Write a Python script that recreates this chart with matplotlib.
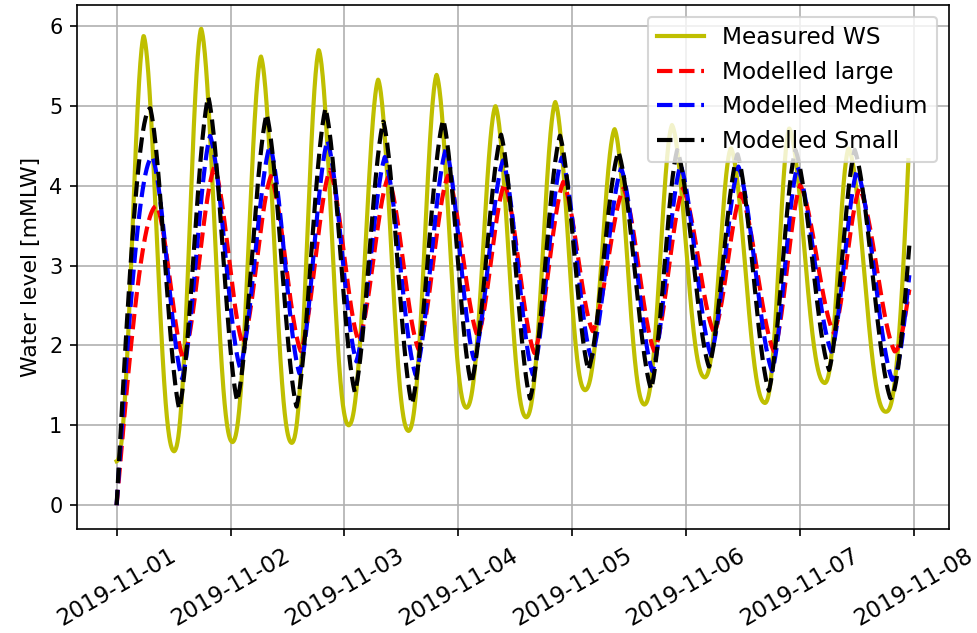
import numpy as np
import matplotlib
matplotlib.use('Agg')
import matplotlib.pyplot as plt
import matplotlib.dates as mdates

START = np.datetime64('2019-11-01T00:00')

# high and low waters, times in hours after START, levels in mMLW
meas_hw_t = [5.7, 17.8, 30.4, 42.6, 55.1, 67.4, 79.8, 92.4, 104.9, 117.0, 129.4, 141.7, 154.2]
meas_hw = [5.88, 5.97, 5.62, 5.70, 5.33, 5.39, 5.00, 5.05, 4.71, 4.76, 4.47, 4.72, 4.47]
meas_lw_t = [12.1, 24.4, 36.9, 48.9, 61.5, 73.7, 86.3, 98.7, 111.2, 123.9, 136.6, 149.2, 162.0]
meas_lw = [0.675, 0.79, 0.78, 1.00, 0.93, 1.22, 1.10, 1.44, 1.26, 1.60, 1.28, 1.53, 1.17]
meas_first = (0.0, 0.55)
meas_last = (166.8, 4.32)

large_hw_t = [8.5, 20.6, 32.5, 44.9, 57.2, 69.8, 81.7, 94.1, 106.8, 119.3, 131.5, 144.0, 156.5]
large_hw = [3.75, 4.24, 4.12, 4.20, 4.11, 4.13, 4.03, 4.05, 3.97, 3.97, 3.90, 4.01, 3.97]
large_lw_t = [14.1, 26.6, 38.8, 51.0, 63.6, 76.1, 88.0, 100.3, 113.3, 125.9, 138.5, 151.1, 163.9]
large_lw = [1.82, 2.01, 1.925, 2.05, 1.95, 2.11, 1.905, 2.175, 1.925, 2.155, 1.925, 2.155, 1.925]
large_last = (167.0, 2.70)

medium_hw_t = [7.6, 19.7, 32.3, 44.4, 56.5, 69.4, 81.4, 93.8, 106.3, 118.8, 131.0, 143.4, 156.0]
medium_hw = [4.36, 4.63, 4.51, 4.57, 4.36, 4.47, 4.32, 4.36, 4.22, 4.26, 4.24, 4.24, 4.20]
medium_lw_t = [13.8, 26.0, 38.5, 50.5, 63.0, 75.3, 87.7, 100.0, 112.9, 125.2, 138.1, 150.6, 163.4]
medium_lw = [1.58, 1.72, 1.65, 1.80, 1.63, 1.82, 1.63, 1.84, 1.675, 1.88, 1.675, 1.92, 1.57]
medium_last = (167.0, 2.88)

small_hw_t = [7.1, 19.3, 31.6, 44.0, 56.2, 68.8, 81.0, 93.4, 105.7, 118.1, 130.8, 143.0, 155.5]
small_hw = [4.97, 5.12, 4.90, 4.97, 4.81, 4.83, 4.64, 4.63, 4.43, 4.45, 4.40, 4.45, 4.45]
small_lw_t = [13.2, 25.4, 37.9, 50.2, 62.2, 74.7, 87.1, 99.4, 112.6, 124.8, 137.4, 150.1, 163.0]
small_lw = [1.20, 1.30, 1.23, 1.41, 1.26, 1.52, 1.33, 1.69, 1.45, 1.73, 1.43, 1.69, 1.34]
small_last = (167.0, 3.25)
model_first = (0.0, 0.0)


def tide_curve(first, hw_t, hw, lw_t, lw, last, power=1.0, sharp=0.0, ramp=False):
    """Half-cosine tide between successive high/low waters."""
    t_ext = np.concatenate([[first[0]], hw_t, lw_t, [last[0]]])
    v_ext = np.concatenate([[first[1]], hw, lw, [last[1]]])
    order = np.argsort(t_ext)
    t_ext, v_ext = t_ext[order], v_ext[order]
    n = len(t_ext)

    hours = np.append(np.arange(t_ext[0], t_ext[-1], 1 / 12), t_ext[-1])
    idx = np.clip(np.searchsorted(t_ext, hours, side='right') - 1, 0, n - 2)
    ta, tb = t_ext[idx], t_ext[idx + 1]
    va, vb = v_ext[idx], v_ext[idx + 1]
    f = (hours - ta) / (tb - ta)

    s = sharp * f + (1 - sharp) * (1 - np.cos(np.pi * f)) / 2
    if ramp:
        m = idx == 0
        s[m] = np.sin(np.pi / 2 * f[m])
    m = idx == n - 2
    s[m] = 1 - np.cos(np.pi / 2 * f[m])

    lo, hi = np.minimum(va, vb), np.maximum(va, vb)
    u = np.where(vb > va, s, 1 - s)
    level = lo + (hi - lo) * u ** power
    times = START + (hours * 3600).astype('timedelta64[s]')
    return times, level


series = [
    (tide_curve(meas_first, meas_hw_t, meas_hw, meas_lw_t, meas_lw, meas_last,
                power=1.3, sharp=0.15),
     'y', '-', 'Measured WS'),
    (tide_curve(model_first, large_hw_t, large_hw, large_lw_t, large_lw, large_last,
                sharp=0.4, ramp=True),
     'r', '--', 'Modelled large'),
    (tide_curve(model_first, medium_hw_t, medium_hw, medium_lw_t, medium_lw, medium_last,
                sharp=0.4, ramp=True),
     'b', '--', 'Modelled Medium'),
    (tide_curve(model_first, small_hw_t, small_hw, small_lw_t, small_lw, small_last,
                sharp=0.4, ramp=True),
     'k', '--', 'Modelled Small'),
]

fig = plt.figure(figsize=(977 / 150, 633 / 150), dpi=150)
ax = fig.add_axes([0.0788, 0.1643, 0.8925, 0.8278])

for (t, lvl), color, ls, label in series:
    ax.plot(t, lvl, color=color, linestyle=ls, linewidth=2, label=label)

ax.xaxis.set_major_locator(mdates.DayLocator())
ax.xaxis.set_major_formatter(mdates.DateFormatter('%Y-%m-%d'))
ax.tick_params(axis='x', labelsize=11)
plt.setp(ax.get_xticklabels(), rotation=30)
ax.set_ylabel('Water level [mMLW]', fontsize=10.5)
ax.grid(True)
ax.legend(loc='upper right', fontsize=11.2)

fig.savefig('out.png', dpi=150)
